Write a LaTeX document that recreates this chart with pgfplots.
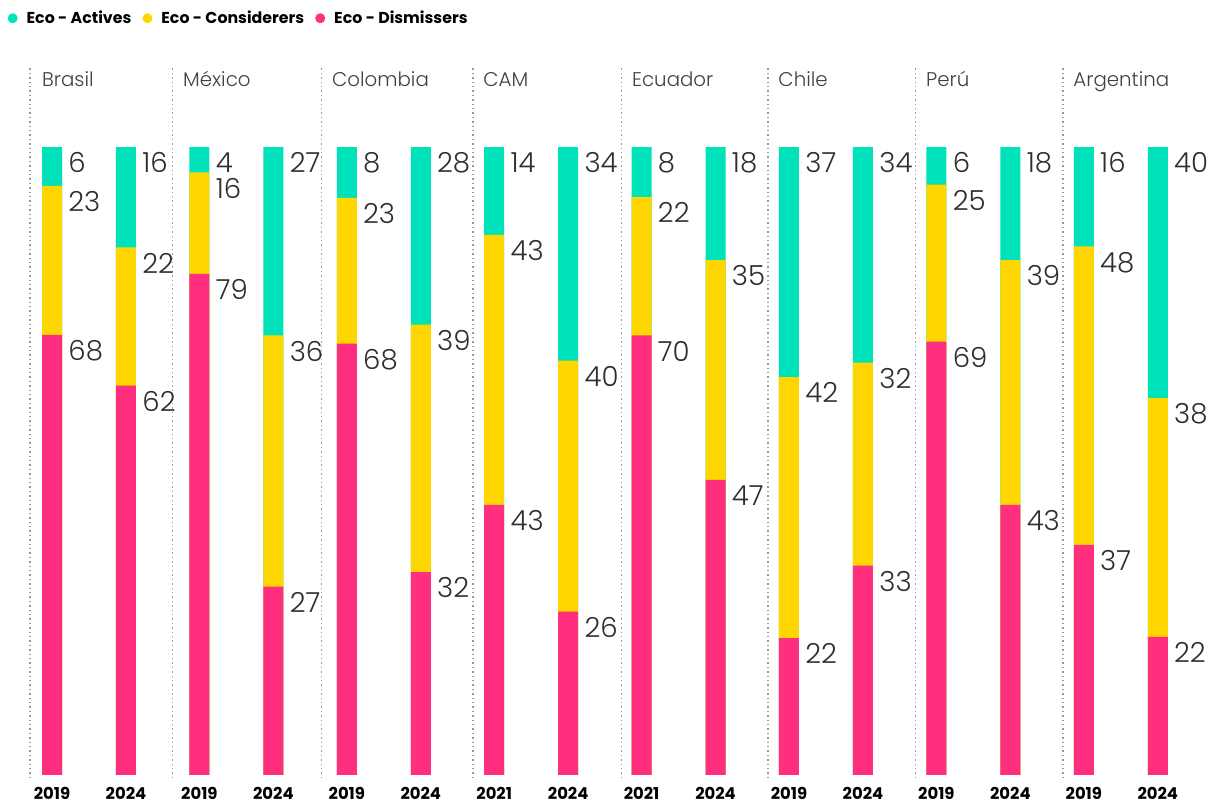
\documentclass[border=0pt]{standalone}
\usepackage{fontspec}
\setmainfont{Poppins}
\newfontfamily\numfont{Poppins Light}
\usepackage{pgfplots}
\pgfplotsset{compat=1.18}
\usepackage{pgfplotstable}
\definecolor{actc}{HTML}{00E2B9}
\definecolor{conc}{HTML}{FFD600}
\definecolor{disc}{HTML}{FF2E7E}
\definecolor{txtc}{HTML}{2E2E2E}
\definecolor{namec}{HTML}{404040}
\definecolor{sepc}{HTML}{9A9A9A}

\pgfplotstableread{
xpos act con dis
0.000 6 23 68
0.502 16 22 62
1.000 4 16 79
1.502 27 36 27
2.000 8 23 68
2.502 28 39 32
3.000 14 43 43
3.502 34 40 26
4.000 8 22 70
4.502 18 35 47
5.000 37 42 22
5.502 34 32 33
6.000 6 25 69
6.502 18 39 43
7.000 16 48 37
7.502 40 38 22
}\mytable

\tikzset{
  cname/.style={anchor=base west, inner sep=0pt, font=\numfont\fontsize{9.9}{12}\selectfont, text=namec},
  yname/.style={anchor=base, inner sep=0pt, font=\bfseries\fontsize{8.2}{9}\selectfont, text=black},
  sepline/.style={sepc, line width=0.7pt, dash pattern=on 0.7pt off 1.5pt},
}

\begin{document}
\begin{tikzpicture}
\begin{axis}[
  scale only axis, width=608pt, height=401.5pt,
  xmin=-0.3528, xmax=7.897, ymin=-4.459, ymax=123.41,
  hide axis, clip=false,
  ybar, bar width=10pt, bar shift=0pt,
  /pgf/number format/assume math mode=true,
  nodes near coords, point meta=explicit,
  every node near coord/.append style={anchor=north west, inner sep=0pt,
     xshift=8pt, yshift=-2.6pt, font=\numfont\fontsize{13.8}{14}\selectfont, text=txtc},
  legend style={at={(0.006,0.9925)}, anchor=north west, draw=none, fill=none,
     legend columns=3, font=\bfseries\fontsize{7.9}{8}\selectfont, inner sep=0pt,
     /tikz/every odd column/.append style={column sep=2.5pt},
     /tikz/every even column/.append style={column sep=3.5pt}},
  legend image code/.code={\fill (2.5pt,0pt) circle (2.5pt);},
]
\addplot[fill=actc, draw=none, forget plot] table[x=xpos, y expr={(\thisrow{act}+\thisrow{con}+\thisrow{dis})/(\thisrow{act}+\thisrow{con}+\thisrow{dis})*100}, meta=act] {\mytable};
\addplot[fill=conc, draw=none, forget plot] table[x=xpos, y expr={(\thisrow{con}+\thisrow{dis})/(\thisrow{act}+\thisrow{con}+\thisrow{dis})*100}, meta=con] {\mytable};
\addplot[fill=disc, draw=none, forget plot] table[x=xpos, y expr={\thisrow{dis}/(\thisrow{act}+\thisrow{con}+\thisrow{dis})*100}, meta=dis] {\mytable};
\addlegendimage{fill=actc, draw=none}
\addlegendentry{Eco - Actives}
\addlegendimage{fill=conc, draw=none}
\addlegendentry{Eco - Considerers}
\addlegendimage{fill=disc, draw=none}
\addlegendentry{Eco - Dismissers}

\coordinate (bbsw) at (rel axis cs:0,0);
\coordinate (bbne) at (rel axis cs:1,1);

\draw[sepline] (axis cs:-0.149,-0.5) -- (axis cs:-0.149,113);
\draw[sepline] (axis cs:0.819,-0.5) -- (axis cs:0.819,113);
\draw[sepline] (axis cs:1.830,-0.5) -- (axis cs:1.830,113);
\draw[sepline] (axis cs:2.856,-0.5) -- (axis cs:2.856,113);
\draw[sepline] (axis cs:3.865,-0.5) -- (axis cs:3.865,113);
\draw[sepline] (axis cs:4.858,-0.5) -- (axis cs:4.858,113);
\draw[sepline] (axis cs:5.860,-0.5) -- (axis cs:5.860,113);
\draw[sepline] (axis cs:6.859,-0.5) -- (axis cs:6.859,113);

\node[cname] at (axis cs:-0.070,109.7) {Brasil};
\node[cname] at (axis cs:0.887,109.7) {México};
\node[cname] at (axis cs:1.898,109.7) {Colombia};
\node[cname] at (axis cs:2.924,109.7) {CAM};
\node[cname] at (axis cs:3.933,109.7) {Ecuador};
\node[cname] at (axis cs:4.926,109.7) {Chile};
\node[cname] at (axis cs:5.928,109.7) {Perú};
\node[cname] at (axis cs:6.927,109.7) {Argentina};

\node[yname] at (axis cs:0.000,-3.98) {2019}; \node[yname] at (axis cs:0.502,-3.98) {2024};
\node[yname] at (axis cs:1.000,-3.98) {2019}; \node[yname] at (axis cs:1.502,-3.98) {2024};
\node[yname] at (axis cs:2.000,-3.98) {2019}; \node[yname] at (axis cs:2.502,-3.98) {2024};
\node[yname] at (axis cs:3.000,-3.98) {2021}; \node[yname] at (axis cs:3.502,-3.98) {2024};
\node[yname] at (axis cs:4.000,-3.98) {2021}; \node[yname] at (axis cs:4.502,-3.98) {2024};
\node[yname] at (axis cs:5.000,-3.98) {2019}; \node[yname] at (axis cs:5.502,-3.98) {2024};
\node[yname] at (axis cs:6.000,-3.98) {2019}; \node[yname] at (axis cs:6.502,-3.98) {2024};
\node[yname] at (axis cs:7.000,-3.98) {2019}; \node[yname] at (axis cs:7.502,-3.98) {2024};
\end{axis}
\pgfresetboundingbox
\useasboundingbox (bbsw) rectangle (bbne);
\end{tikzpicture}
\end{document}
